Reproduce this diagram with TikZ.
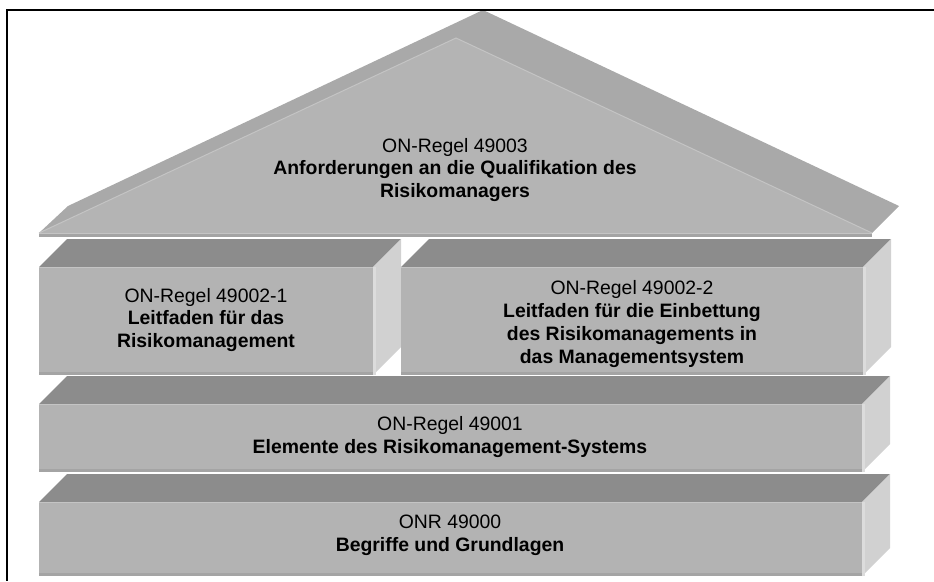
\documentclass[tikz,border=0pt]{standalone}
\usepackage{fontspec}
\setmainfont{Liberation Sans}

\definecolor{roofband}{HTML}{A9A9A9}
\definecolor{roofface}{HTML}{B4B4B4}
\definecolor{boxtop}{HTML}{8C8C8C}
\definecolor{boxfront}{HTML}{B3B3B3}
\definecolor{boxside}{HTML}{D1D1D1}
\definecolor{sidelight}{HTML}{DCDCDC}
\definecolor{edgelight}{HTML}{C4C4C4}
\definecolor{edgedark}{HTML}{A4A4A4}

\tikzset{
  frontface/.style={rectangle, fill=boxfront, draw=none, inner sep=0pt, outer sep=0pt, anchor=north west},
  topface/.style={fill=boxtop},
  sideface/.style={fill=boxside},
  boxtext/.style={align=center, inner sep=0pt, text=black,
    font=\fontsize{19.4}{22.8}\selectfont},
}

% top face, side face and edge shading of a slab whose front face is node #1
\newcommand\slabfaces[1]{%
  \fill[topface] (#1.north west) -- ([shift={(28,-28)}]#1.north west)
    -- ([shift={(28,-28)}]#1.north east) -- (#1.north east) -- cycle;
  \fill[sideface] (#1.north east) -- ([shift={(28,-28)}]#1.north east)
    -- ([shift={(28,-28)}]#1.south east) -- (#1.south east) -- cycle;
  \fill[sidelight] (#1.north east) rectangle ([xshift=3pt]#1.south east);
  \fill[edgedark] (#1.south west) rectangle ([yshift=3pt]#1.south east);
  \draw[edgelight, line width=1pt] ([yshift=-0.5pt]#1.north west) -- ([yshift=-0.5pt]#1.north east);
}

\begin{document}
\begin{tikzpicture}[x=1pt, y=-1pt]
  \useasboundingbox (0,0) rectangle (934,581);

  % roof
  \fill[roofband] (39,233) -- (68,206) -- (483,10) -- (899,206) -- (872,233) -- cycle;
  \fill[roofface] (39,233) -- (456,38) -- (872,233) -- cycle;
  \draw[edgelight, line width=1pt] (39,233) -- (456,38) -- (872,233);
  \fill[edgedark] (39,233) rectangle (872,237);
  \draw[edgelight, line width=0.8pt] (39,233) -- (872,233);

  % slabs
  \node[frontface, minimum width=334pt, minimum height=108pt] (f1) at (39,267) {};
  \slabfaces{f1}
  \node[frontface, minimum width=462pt, minimum height=108pt] (f2) at (401,267) {};
  \slabfaces{f2}
  \node[frontface, minimum width=823pt, minimum height=68pt] (f3) at (39,404) {};
  \slabfaces{f3}
  \node[frontface, minimum width=823pt, minimum height=74pt] (f4) at (39,502) {};
  \slabfaces{f4}

  % texts
  \node[boxtext] (t0) at (455,170) {ON-Regel 49003\\
    \textbf{Anforderungen an die Qualifikation des}\\
    \textbf{Risikomanagers}};
  \node[boxtext] (t1) at (206,320) {ON-Regel 49002-1\\
    \textbf{Leitfaden für das}\\
    \textbf{Risikomanagement}};
  \node[boxtext] (t2) at (632,324) {ON-Regel 49002-2\\
    \textbf{Leitfaden für die Einbettung}\\
    \textbf{des Risikomanagements in}\\
    \textbf{das Managementsystem}};
  \node[boxtext] (t3) at (450,437) {ON-Regel 49001\\
    \textbf{Elemente des Risikomanagement-Systems}};
  \node[boxtext] (t4) at (450,535) {ONR 49000\\
    \textbf{Begriffe und Grundlagen}};

  % frame
  \draw[line width=2pt] (934,9.5) -- (7,9.5) -- (7,581);
\end{tikzpicture}
\end{document}
